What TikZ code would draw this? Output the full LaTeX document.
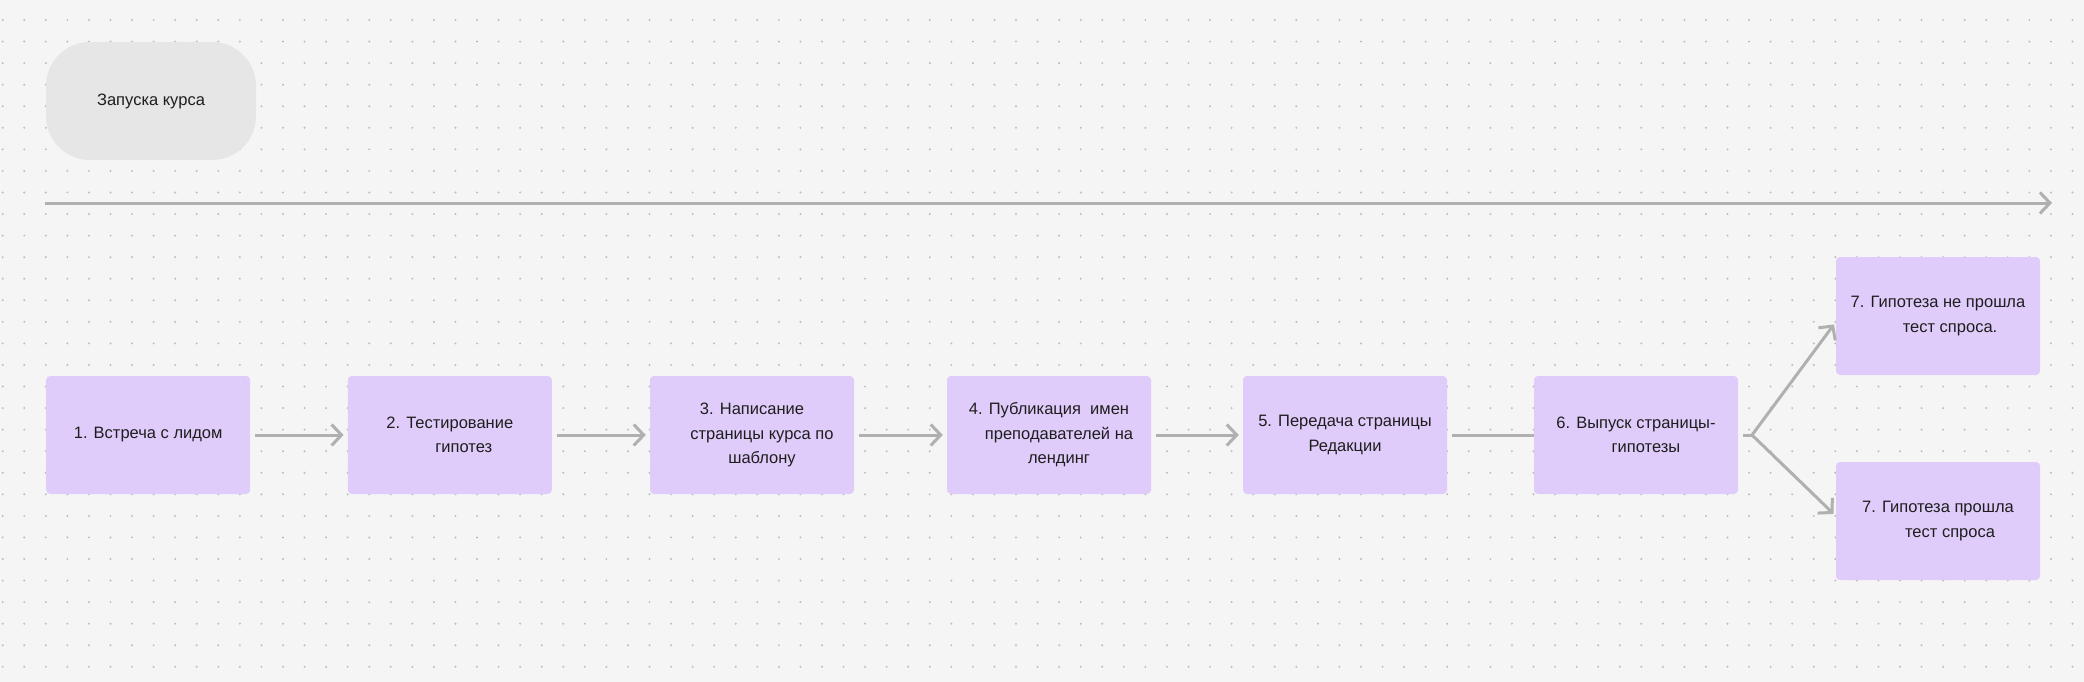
\documentclass[tikz,border=0pt]{standalone}
\usepackage{fontspec}
\setmainfont{Liberation Sans}
\usetikzlibrary{arrows.meta}
\definecolor{bg}{HTML}{F5F5F5}
\definecolor{dotc}{HTML}{BDBDBD}
\definecolor{boxc}{HTML}{E0CCFA}
\definecolor{pillc}{HTML}{E6E6E6}
\definecolor{linec}{HTML}{B0B0B0}
\definecolor{txt}{HTML}{1E1E1E}
\begin{document}
\begin{tikzpicture}[x=1pt,y=-1pt,
  stepbox/.style={fill=boxc, rounded corners=4pt, minimum width=204pt,
    minimum height=118pt, inner sep=0pt, align=center, text=txt,
    font=\fontsize{16.5}{24.5}\selectfont},
  pill/.style={fill=pillc, rounded corners=44pt, minimum width=210pt,
    minimum height=118pt, inner sep=0pt, text=txt,
    font=\fontsize{16.5}{24.5}\selectfont},
  conn/.style={draw=linec, line width=3pt},
  tip/.style={-{Straight Barb[length=10pt,width=21pt]}},
  gap/.style={shorten <=5pt, shorten >=4pt}
]
\useasboundingbox (0,0) rectangle (2084,682);
\fill[bg] (0,0) rectangle (2084,682);
% dot grid
\foreach \i in {0,...,96}{
  \foreach \j in {0,...,30}{
    \fill[dotc] ({2.7+21.56*\i},{20+21.56*\j}) circle (1.1pt);
  }
}
% top pill
\node[pill] (start) at (151,101) {Запуска курса};
% timeline
\coordinate (tlS) at (45,203);
\coordinate (tlE) at (2052,203);
\draw[conn,tip] (tlS) -- (tlE);
% steps
\node[stepbox] (b1) at (148.2,435) {1. Встреча с лидом};
\node[stepbox] (b2) at (449.8,435) {2. Тестирование\\\kern28pt гипотез};
\node[stepbox] (b3) at (752,435) {3. Написание\\\kern20pt страницы курса по\\\kern20pt шаблону};
\node[stepbox] (b4) at (1049,435) {4. Публикация~~имен\\\kern20pt преподавателей на\\\kern20pt лендинг};
\node[stepbox] (b5) at (1345,435) {5. Передача страницы\\Редакции};
\node[stepbox] (b6) at (1636,435) {6. Выпуск страницы-\\\kern20pt гипотезы};
\node[stepbox] (b7a) at (1938,316) {7. Гипотеза не прошла\\\kern24pt тест спроса.};
\node[stepbox] (b7b) at (1938,521) {7. Гипотеза прошла\\\kern24pt тест спроса};
% connectors
\draw[conn,tip,gap] (b1.east) -- (b2.west);
\draw[conn,tip,gap] (b2.east) -- (b3.west);
\draw[conn,tip,gap] (b3.east) -- (b4.west);
\draw[conn,tip,gap] (b4.east) -- (b5.west);
\draw[conn,shorten <=5pt] (b5.east) -- (b6.west);
\coordinate (fork) at (1752,435);
\draw[conn,shorten <=5pt] (b6.east) -- (fork);
\draw[conn,tip,shorten >=3pt] (fork) -- ([yshift=-6pt]b7a.west);
\draw[conn,tip,shorten >=3pt] (fork) -- ([yshift=5pt]b7b.west);
\end{tikzpicture}
\end{document}
